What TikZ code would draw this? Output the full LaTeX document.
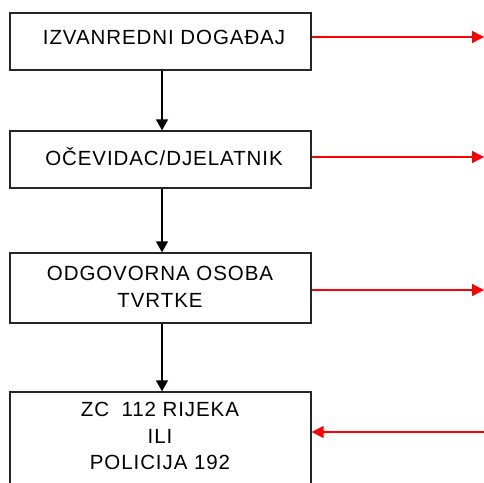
\documentclass[tikz,border=0pt]{standalone}
\usepackage{fontspec}
\setmainfont{Liberation Sans}[LetterSpace=4.5]
\usetikzlibrary{arrows.meta}
\begin{document}
\begin{tikzpicture}[x=1pt,y=-1pt,
  box/.style={draw=black!85,line width=1.4pt,minimum width=301pt,inner sep=0pt},
  txt/.style={align=center,font=\fontsize{20.5}{26.5}\selectfont,inner sep=0pt},
  down/.style={draw=black,line width=1.5pt,-{Triangle[length=11pt,width=12pt]}},
  redarr/.style={draw=red,line width=1.5pt,-{Triangle[length=12pt,width=12pt]}}]
\useasboundingbox (0,0) rectangle (484,482);
\clip (0,0) rectangle (484,482);
\node[box,minimum height=57pt] (b1) at (160.5,41.5) {};
\node[box,minimum height=57pt] (b2) at (160.5,159.5) {};
\node[box,minimum height=70pt] (b3) at (160.5,288) {};
\node[box,minimum height=120pt] (b4) at (160.5,452) {};
\node[txt] (t1) at (164,37) {IZVANREDNI DOGAĐAJ};
\node[txt] (t2) at (164,157) {OČEVIDAC/DJELATNIK};
\node[txt] (t3) at (160,287) {ODGOVORNA OSOBA\\TVRTKE};
\node[txt] (t4) at (160,436) {ZC\hspace{0.6em}112 RIJEKA\\ILI\\POLICIJA 192};
\coordinate (x0) at (162,0);
\coordinate (r1) at (484,37);
\coordinate (r2) at (484,157);
\coordinate (r3) at (484,290);
\coordinate (r4) at (484,432);
\draw[down] (b1.south -| x0) -- (b2.north -| x0);
\draw[down] (b2.south -| x0) -- (b3.north -| x0);
\draw[down] (b3.south -| x0) -- (b4.north -| x0);
\draw[redarr] (b1.east |- r1) -- (r1);
\draw[redarr] (b2.east |- r2) -- (r2);
\draw[redarr] (b3.east |- r3) -- (r3);
\draw[redarr] (r4) -- (b4.east |- r4);
\end{tikzpicture}
\end{document}
